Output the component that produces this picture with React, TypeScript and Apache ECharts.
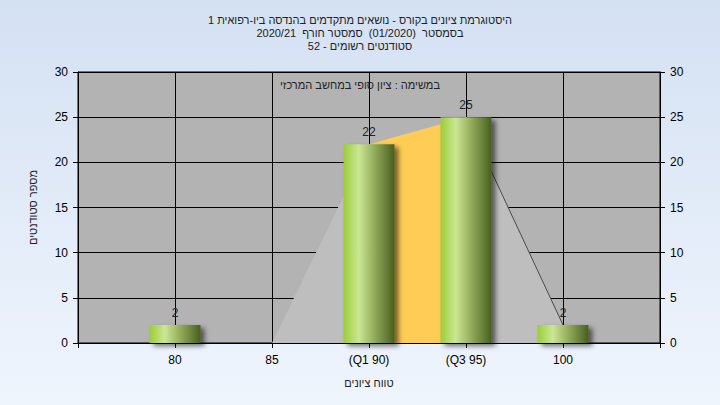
import React, { useEffect, useRef } from "react";
import * as echarts from "echarts";

const titleLines = [
  "היסטוגרמת ציונים בקורס - נושאים מתקדמים בהנדסה ביו-רפואית 1",
  "בסמסטר  (01/2020)  סמסטר חורף  2020/21",
  "סטודנטים רשומים - 52",
];
const noteText = "במשימה : ציון סופי במחשב המרכזי";
const xAxisTitle = "טווח ציונים";
const yAxisTitle = "מספר סטודנטים";

const grades = [80, 85, 90, 95, 100];
const counts = [2, 0, 22, 25, 2];
const gradeLabels: Record<number, string> = {
  80: "80",
  85: "85",
  90: "(Q1 90)",
  95: "(Q3 95)",
  100: "100",
};
const q1Index = 2;
const q3Index = 3;

const FONT = "'Liberation Sans', 'DejaVu Sans', Arial, sans-serif";

export default function App() {
  const ref = useRef<HTMLDivElement>(null);

  useEffect(() => {
    if (!ref.current) return;
    const chart = echarts.init(ref.current, undefined, { renderer: "svg" });

    const pts = grades.map((g, i) => [g, counts[i]]);
    const leftArea = [pts[q1Index - 1], pts[q1Index]];
    const midArea = [pts[q1Index], pts[q3Index]];
    const rightArea = [pts[q3Index], pts[q3Index + 1]];

    const barGradient = new echarts.graphic.LinearGradient(0, 0, 1, 0, [
      { offset: 0, color: "#9ccd38" },
      { offset: 0.3, color: "#cbe694" },
      { offset: 0.6, color: "#93ad5c" },
      { offset: 1, color: "#485f1e" },
    ]);

    chart.setOption({
      animation: false,
      backgroundColor: {
        type: "linear",
        x: 0,
        y: 0,
        x2: 0,
        y2: 1,
        colorStops: [
          { offset: 0, color: "#d4e1f3" },
          { offset: 1, color: "#eff5fd" },
        ],
      },
      textStyle: { fontFamily: FONT },
      title: {
        text: titleLines.join("\n"),
        left: "center",
        top: 8,
        textStyle: {
          fontSize: 11,
          fontWeight: "normal",
          lineHeight: 13,
          color: "#222",
          fontFamily: FONT,
        },
      },
      graphic: [
        {
          type: "text",
          left: "center",
          top: 79,
          style: {
            text: noteText,
            fontSize: 11,
            fill: "#222",
            fontFamily: FONT,
          },
          z: 100,
        },
      ],
      grid: {
        left: 78,
        right: 60,
        top: 72,
        bottom: 62,
        show: true,
        backgroundColor: "#b3b3b3",
        borderColor: "#000",
        borderWidth: 1,
      },
      xAxis: {
        type: "value",
        min: 75,
        max: 105,
        interval: 5,
        name: xAxisTitle,
        nameLocation: "middle",
        nameGap: 34,
        nameTextStyle: { fontSize: 11, color: "#222", fontFamily: FONT },
        axisLine: { show: true, lineStyle: { color: "#000", width: 1 } },
        axisTick: { show: true, length: 5, lineStyle: { color: "#000" } },
        axisLabel: {
          fontSize: 12,
          color: "#000",
          margin: 11,
          fontFamily: FONT,
          formatter: (v: number) => gradeLabels[v] ?? "",
        },
        splitLine: { show: true, lineStyle: { color: "#000", width: 1 } },
      },
      yAxis: [
        {
          type: "value",
          min: 0,
          max: 30,
          interval: 5,
          position: "left",
          name: yAxisTitle,
          nameLocation: "middle",
          nameGap: 40,
          nameRotate: 90,
          nameTextStyle: { fontSize: 11, color: "#222", fontFamily: FONT },
          axisLine: { show: true, lineStyle: { color: "#000", width: 1 } },
          axisTick: { show: true, length: 5, lineStyle: { color: "#000" } },
          axisLabel: { fontSize: 12, color: "#000", margin: 10, fontFamily: FONT },
          splitLine: { show: true, lineStyle: { color: "#000", width: 1 } },
        },
        {
          type: "value",
          min: 0,
          max: 30,
          interval: 5,
          position: "right",
          axisLine: { show: true, lineStyle: { color: "#000", width: 1 } },
          axisTick: { show: true, length: 5, lineStyle: { color: "#000" } },
          axisLabel: { fontSize: 12, color: "#000", margin: 10, fontFamily: FONT },
          splitLine: { show: false },
        },
      ],
      series: [
        {
          type: "line",
          data: leftArea,
          symbol: "none",
          lineStyle: { width: 0, color: "#bebebe" },
          areaStyle: { color: "#bebebe", opacity: 1 },
          z: 2,
        },
        {
          type: "line",
          data: midArea,
          symbol: "none",
          lineStyle: { width: 0, color: "#ffcc55" },
          areaStyle: { color: "#ffcc55", opacity: 1 },
          z: 2,
        },
        {
          type: "line",
          data: rightArea,
          symbol: "none",
          lineStyle: { width: 1, color: "#4a4a4a" },
          areaStyle: { color: "#bebebe", opacity: 1 },
          z: 2,
        },
        {
          type: "bar",
          data: pts,
          barWidth: 51,
          z: 5,
          itemStyle: {
            color: barGradient,
            shadowColor: "rgba(0,0,0,0.55)",
            shadowBlur: 5,
            shadowOffsetX: 4,
            shadowOffsetY: 3,
          },
          label: {
            show: true,
            position: "top",
            distance: 6,
            fontSize: 12,
            color: "#222",
            fontFamily: FONT,
            formatter: (p: any) => (p.value[1] === 0 ? "" : String(p.value[1])),
          },
        },
      ],
    });

    return () => chart.dispose();
  }, []);

  return (
    <div
      ref={ref}
      style={{ position: "fixed", left: 0, top: 0, width: 720, height: 405 }}
    />
  );
}
